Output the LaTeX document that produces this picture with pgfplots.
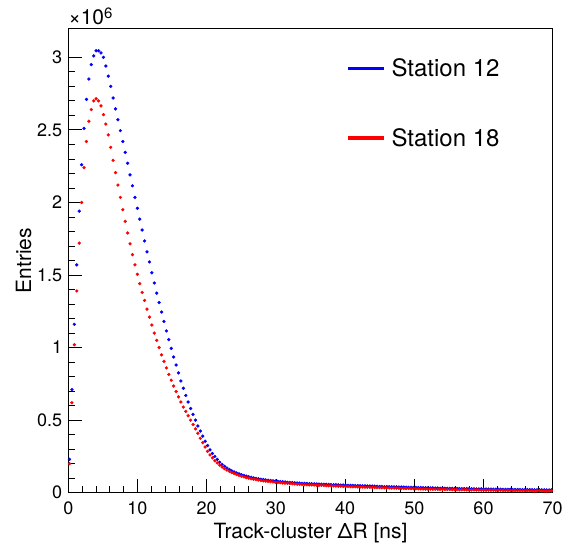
\documentclass[border=0pt]{standalone}
\usepackage{fontspec}
\setmainfont{TeX Gyre Heros}
\usepackage{pgfplots}
\usepackage{pgfplotstable}
\pgfplotsset{compat=1.18}
% values in units of 10^6 entries
\pgfplotstableread{
x b r
0.175 0.230 0.200
0.525 0.710 0.620
0.875 1.160 1.020
1.225 1.570 1.390
1.575 1.940 1.720
1.925 2.260 2.000
2.275 2.510 2.240
2.625 2.710 2.420
2.975 2.850 2.560
3.325 2.950 2.640
3.675 3.010 2.700
4.025 3.045 2.715
4.375 3.045 2.700
4.725 3.030 2.665
5.075 3.000 2.605
5.425 2.940 2.540
5.775 2.870 2.465
6.125 2.800 2.380
6.475 2.720 2.290
6.825 2.645 2.205
7.175 2.570 2.120
7.525 2.495 2.035
7.875 2.420 1.950
8.225 2.345 1.870
8.575 2.270 1.790
8.925 2.190 1.715
9.275 2.115 1.640
9.625 2.035 1.570
9.975 1.960 1.505
10.325 1.885 1.440
10.675 1.810 1.380
11.025 1.735 1.325
11.375 1.660 1.265
11.725 1.590 1.210
12.075 1.515 1.155
12.425 1.445 1.100
12.775 1.375 1.050
13.125 1.310 1.000
13.475 1.245 0.950
13.825 1.180 0.905
14.175 1.115 0.860
14.525 1.055 0.815
14.875 0.995 0.775
15.225 0.935 0.735
15.575 0.880 0.697
15.925 0.825 0.660
16.275 0.770 0.625
16.625 0.720 0.590
16.975 0.670 0.560
17.325 0.625 0.530
17.675 0.580 0.500
18.025 0.540 0.470
18.375 0.500 0.440
18.725 0.460 0.410
19.075 0.425 0.375
19.425 0.390 0.345
19.775 0.355 0.315
20.125 0.325 0.285
20.475 0.295 0.260
20.825 0.270 0.240
21.175 0.250 0.220
21.525 0.230 0.205
21.875 0.210 0.190
22.225 0.195 0.177
22.575 0.182 0.166
22.925 0.170 0.156
23.275 0.160 0.147
23.625 0.151 0.139
23.975 0.143 0.132
24.325 0.136 0.125
24.675 0.130 0.119
25.025 0.124 0.114
25.375 0.119 0.109
25.725 0.114 0.104
26.075 0.110 0.100
26.425 0.106 0.096
26.775 0.102 0.093
27.125 0.099 0.090
27.475 0.096 0.087
27.825 0.093 0.084
28.175 0.091 0.082
28.525 0.088 0.080
28.875 0.086 0.078
29.225 0.084 0.076
29.575 0.082 0.074
29.925 0.080 0.072
30.275 0.078 0.070
30.625 0.077 0.069
30.975 0.075 0.067
31.325 0.074 0.066
31.675 0.072 0.064
32.025 0.071 0.063
32.375 0.070 0.062
32.725 0.068 0.060
33.075 0.067 0.059
33.425 0.066 0.058
33.775 0.065 0.057
34.125 0.064 0.056
34.475 0.063 0.055
34.825 0.062 0.054
35.175 0.062 0.054
35.525 0.061 0.053
35.875 0.060 0.052
36.225 0.059 0.051
36.575 0.059 0.051
36.925 0.058 0.050
37.275 0.057 0.049
37.625 0.057 0.048
37.975 0.056 0.048
38.325 0.055 0.047
38.675 0.055 0.046
39.025 0.054 0.045
39.375 0.053 0.045
39.725 0.053 0.044
40.075 0.052 0.043
40.425 0.051 0.043
40.775 0.051 0.042
41.125 0.050 0.041
41.475 0.049 0.041
41.825 0.049 0.040
42.175 0.048 0.039
42.525 0.047 0.039
42.875 0.047 0.038
43.225 0.046 0.037
43.575 0.046 0.037
43.925 0.045 0.036
44.275 0.045 0.036
44.625 0.044 0.035
44.975 0.043 0.035
45.325 0.043 0.034
45.675 0.042 0.034
46.025 0.042 0.033
46.375 0.041 0.033
46.725 0.041 0.032
47.075 0.040 0.032
47.425 0.040 0.031
47.775 0.039 0.031
48.125 0.039 0.030
48.475 0.038 0.030
48.825 0.038 0.029
49.175 0.037 0.029
49.525 0.037 0.028
49.875 0.036 0.028
50.225 0.036 0.027
50.575 0.035 0.027
50.925 0.035 0.026
51.275 0.034 0.026
51.625 0.034 0.025
51.975 0.034 0.025
52.325 0.033 0.025
52.675 0.033 0.024
53.025 0.032 0.024
53.375 0.032 0.023
53.725 0.031 0.023
54.075 0.031 0.023
54.425 0.031 0.022
54.775 0.030 0.022
55.125 0.030 0.022
55.475 0.030 0.021
55.825 0.029 0.021
56.175 0.029 0.021
56.525 0.029 0.020
56.875 0.028 0.020
57.225 0.028 0.020
57.575 0.028 0.019
57.925 0.027 0.019
58.275 0.027 0.019
58.625 0.027 0.019
58.975 0.026 0.018
59.325 0.026 0.018
59.675 0.026 0.018
60.025 0.026 0.018
60.375 0.025 0.017
60.725 0.025 0.017
61.075 0.025 0.017
61.425 0.024 0.017
61.775 0.024 0.016
62.125 0.024 0.016
62.475 0.024 0.016
62.825 0.023 0.016
63.175 0.023 0.015
63.525 0.023 0.015
63.875 0.023 0.015
64.225 0.022 0.015
64.575 0.022 0.015
64.925 0.022 0.014
65.275 0.022 0.014
65.625 0.021 0.014
65.975 0.021 0.014
66.325 0.021 0.014
66.675 0.021 0.013
67.025 0.020 0.013
67.375 0.020 0.013
67.725 0.020 0.013
68.075 0.020 0.013
68.425 0.020 0.012
68.775 0.019 0.012
69.125 0.019 0.012
69.475 0.019 0.012
69.825 0.019 0.012
}\data

\begin{document}
\begin{tikzpicture}
\begin{axis}[
  scale only axis, width=484.4pt, height=464.4pt,
  xmin=0, xmax=70, ymin=0, ymax=3.2,
  xtick={0,10,20,30,40,50,60,70},
  ytick={0,0.5,1,1.5,2,2.5,3},
  minor x tick num=4, minor y tick num=4,
  tick align=inside, xtick pos=bottom, ytick pos=left,
  major tick length=14pt, minor tick length=7pt,
  axis line style={line width=1pt},
  tick style={line width=0.8pt, black},
  /pgf/number format/assume math mode=true,
  ticklabel style={font=\fontsize{18}{18}\selectfont},
  xticklabel style={inner sep=0pt, anchor=north, yshift=-9pt},
  yticklabel style={inner sep=0pt, anchor=east, xshift=-6pt},
  xlabel={Track-cluster ΔR [ns]},
  ylabel={Entries},
  xlabel style={font=\fontsize{21}{21}\selectfont, inner sep=0pt, anchor=base, at={([yshift=-45.3pt]axis description cs:0.5,0)}},
  ylabel style={font=\fontsize{21}{21}\selectfont, inner sep=0pt, anchor=base, rotate=0, at={([xshift=-37.3pt]axis description cs:0,0.5)}},
  legend style={draw=none, fill=none, at={(axis description cs:0.573,0.935)}, anchor=north west,
    font=\fontsize{24}{24}\selectfont, row sep=50pt, inner sep=0pt, column sep=6pt,
    nodes={inner sep=0pt}},
  legend cell align=left,
  legend image code/.code={\draw[#1] (0pt,0pt) -- (36pt,0pt);},
]
\addplot[forget plot, only marks, mark=*, mark size=1.45pt, color=blue] table[x=x,y=b]{\data};
\addplot[forget plot, only marks, mark=*, mark size=1.45pt, color=red] table[x=x,y=r]{\data};
\addlegendimage{blue, line width=3.5pt}
\addlegendentry{Station 12}
\addlegendimage{red, line width=3.5pt}
\addlegendentry{Station 18}
\end{axis}
\node[anchor=base west, inner sep=0pt, font=\fontsize{21}{21}\selectfont] at ([yshift=3.3pt]current axis.north west) {×10\raisebox{6pt}{\fontsize{15}{15}\selectfont 6}};
\pgfresetboundingbox
\path ([shift={(-68.3pt,-53.3pt)}]current axis.south west) rectangle ([shift={(10.3pt,28.3pt)}]current axis.north east);
\end{tikzpicture}
\end{document}
